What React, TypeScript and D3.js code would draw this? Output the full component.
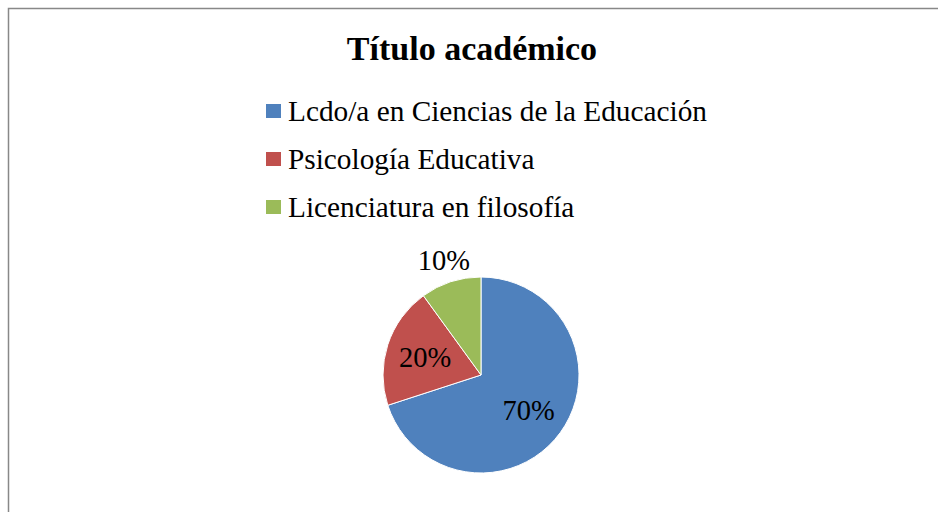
import React from "react";
import * as d3 from "d3";

const categories = ["Lcdo/a en Ciencias de la Educación", "Psicología Educativa", "Licenciatura en filosofía"];
const values = [70, 20, 10];
const labels = ["70%", "20%", "10%"];
const colors = ["#4F81BD", "#C0504D", "#9BBB59"];
const title = "Título académico";

const W = 938;
const H = 512;
const cx = 481;
const cy = 375;
const R = 98;

export default function App() {
  const pie = d3.pie<number>().sort(null).startAngle(0).endAngle(2 * Math.PI);
  const arcs = pie(values);
  const arc = d3.arc<d3.PieArcDatum<number>>().innerRadius(0).outerRadius(R);
  const inLabel = d3.arc<d3.PieArcDatum<number>>().innerRadius(R * 0.6).outerRadius(R * 0.6);
  const outLabel = d3.arc<d3.PieArcDatum<number>>().innerRadius(R * 1.23).outerRadius(R * 1.23);
  const labelPos = (i: number) => (values[i] < 15 ? outLabel : inLabel).centroid(arcs[i] as any);
  const legendY = d3.scaleBand<string>().domain(categories).range([90, 234]);
  const font = "'Liberation Serif', 'Times New Roman', serif";
  return (
    <svg width={W} height={H} style={{ position: "fixed", left: 0, top: 0, background: "#fff" }} fontFamily={font}>
      <rect x={8.5} y={8.5} width={W} height={H} fill="#fff" stroke="#888" strokeWidth={1.5} />
      <text x={472} y={60} textAnchor="middle" fontWeight="bold" fontSize={34} fill="#000">{title}</text>
      {categories.map((c, i) => {
        const y0 = legendY(c)! + legendY.bandwidth() / 2;
        return (
          <g key={c}>
            <rect x={266} y={y0 - 10} width={15} height={14} fill={colors[i]} />
            <text x={288} y={y0 + 7} fontSize={29.3} fill="#000">{c}</text>
          </g>
        );
      })}
      <g transform={`translate(${cx},${cy})`}>
        {arcs.map((a, i) => (
          <path key={i} d={arc(a as any) || ""} fill={colors[i]} stroke="#fff" strokeWidth={1} />
        ))}
        {arcs.map((a, i) => {
          const [x, y] = labelPos(i);
          return (
            <text key={"l" + i} x={x} y={y} dy="0.35em" textAnchor="middle" fontSize={28.5} fill="#000">{labels[i]}</text>
          );
        })}
      </g>
    </svg>
  );
}
